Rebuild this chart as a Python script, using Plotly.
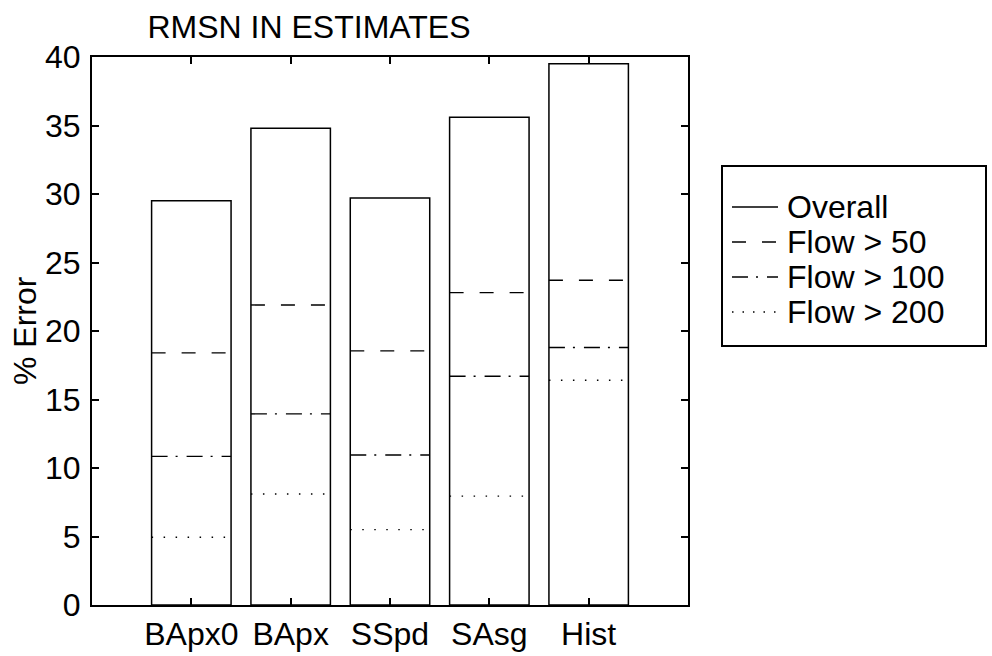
import plotly.graph_objects as go

categories = ["BApx0", "BApx", "SSpd", "SAsg", "Hist"]
overall = [29.5, 34.8, 29.7, 35.6, 39.5]
flow50 = [18.4, 21.9, 18.55, 22.8, 23.7]
flow100 = [10.85, 13.95, 10.95, 16.7, 18.8]
flow200 = [4.95, 8.1, 5.5, 7.95, 16.4]
series_names = ["Overall", "Flow > 50", "Flow > 100", "Flow > 200"]

FONT = "Liberation Sans, Arial, Helvetica, sans-serif"
FS = 32
W, H = 992, 656
L, R, T, B = 92, 304, 57, 51
PW = W - L - R
PH = H - T - B
BAR_W = 0.8
pos = list(range(1, len(categories) + 1))

def px_x(px):
    return (px - L) / PW

def px_y(py):
    return (H - B - py) / PH

fig = go.Figure()

# Overall bars (white with black outline)
fig.add_trace(go.Bar(
    x=pos, y=overall, width=BAR_W, name=series_names[0],
    marker=dict(color="white", line=dict(color="black", width=1.5)),
    showlegend=False, hoverinfo="skip",
))

def seg_xy(vals):
    xs, ys = [], []
    for p, v in zip(pos, vals):
        xs += [p - BAR_W / 2, p + BAR_W / 2, None]
        ys += [v, v, None]
    return xs, ys

dashes = ["solid", "14px,16px", "16px,8px,2px,9px", "1.5px,10.5px"]
for name, vals, d in zip(series_names[1:], [flow50, flow100, flow200], dashes[1:]):
    xs, ys = seg_xy(vals)
    fig.add_trace(go.Scatter(x=xs, y=ys, mode="lines", name=name,
                             line=dict(color="black", width=1.4, dash=d),
                             showlegend=False, hoverinfo="skip"))

axis_common = dict(
    showline=True, linecolor="black", linewidth=2, mirror="ticks",
    ticks="inside", ticklen=7, tickwidth=1.5, tickcolor="black",
    showgrid=False, zeroline=False, automargin=False,
    tickfont=dict(family=FONT, size=FS, color="black"),
)

# manual legend
shapes = [dict(type="rect", xref="paper", yref="paper",
               x0=px_x(722), x1=px_x(986), y0=px_y(346), y1=px_y(166),
               line=dict(color="black", width=2), fillcolor="rgba(0,0,0,0)")]
annotations = [dict(text="% Error", xref="paper", yref="paper",
                    x=px_x(25), y=0.5, xanchor="center", yanchor="middle",
                    textangle=-90, showarrow=False,
                    font=dict(family=FONT, size=FS, color="black"))]
row_y = [207, 242, 277, 312]
for name, d, ry in zip(series_names, dashes, row_y):
    shapes.append(dict(type="line", xref="paper", yref="paper",
                       x0=px_x(732), x1=px_x(778), y0=px_y(ry), y1=px_y(ry),
                       line=dict(color="black", width=1.3,
                                 dash=d if d != "1.5px,10.5px" else "1.5px,9px")))
    annotations.append(dict(text=name, xref="paper", yref="paper",
                            x=px_x(785), y=px_y(ry), xanchor="left", yanchor="middle",
                            showarrow=False,
                            font=dict(family=FONT, size=FS, color="black")))

fig.update_layout(
    width=W, height=H,
    margin=dict(l=L, r=R, t=T, b=B),
    paper_bgcolor="white", plot_bgcolor="white",
    barmode="overlay",
    xaxis=dict(range=[0, 6], tickvals=pos, ticktext=categories,
               ticklabelstandoff=0, **axis_common),
    yaxis=dict(range=[0, 40], dtick=5, ticklabelstandoff=3, **axis_common),
    showlegend=False,
    title=dict(text="RMSN IN ESTIMATES", x=309 / W, xanchor="center",
               y=1 - 27 / H, yanchor="middle",
               font=dict(family=FONT, size=FS, color="black")),
    annotations=annotations,
    shapes=shapes,
)

fig.write_html("out.html")
